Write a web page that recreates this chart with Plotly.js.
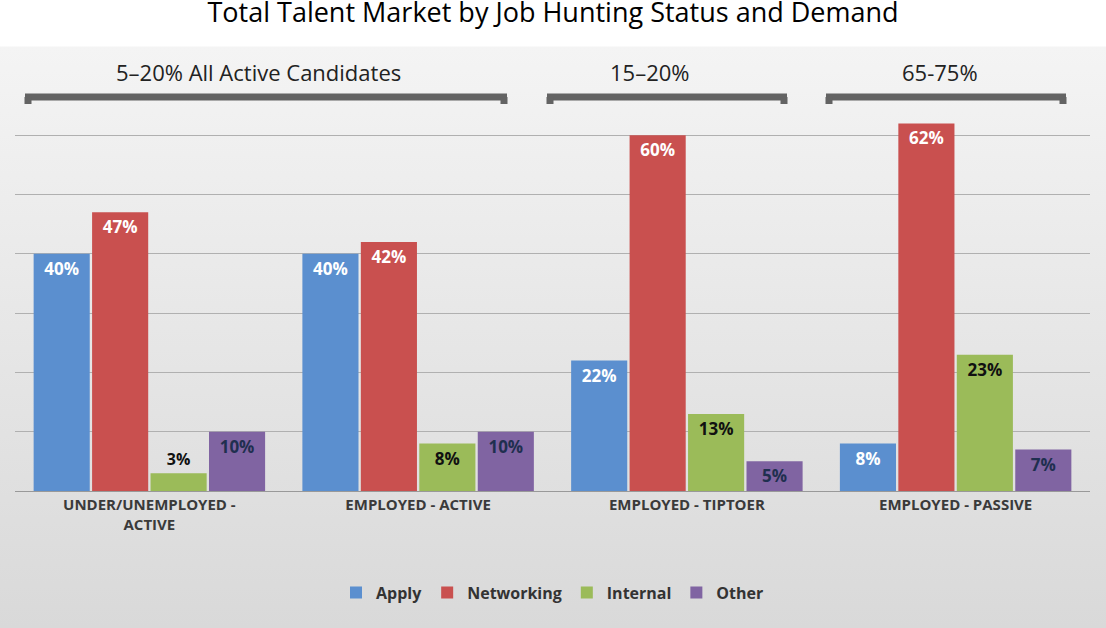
<!DOCTYPE html>
<html><head><meta charset="utf-8">
<script src="https://cdn.plot.ly/plotly-3.0.1.min.js"></script>
<style>
body{margin:0;}
#chart{width:1106px;height:628px;background:linear-gradient(#ffffff 0px,#ffffff 46px,#f4f4f4 47px,#d9d9d9 628px);}
</style></head><body>
<div id="chart"></div>
<script>
// categorias e valores
var categories = ['UNDER/UNEMPLOYED -<br>ACTIVE', 'EMPLOYED - ACTIVE', 'EMPLOYED - TIPTOER', 'EMPLOYED - PASSIVE'];
var apply = [0.40, 0.40, 0.22, 0.08];
var networking = [0.47, 0.42, 0.60, 0.62];
var internal = [0.03, 0.08, 0.13, 0.23];
var other = [0.10, 0.10, 0.05, 0.07];

var groupLabels = ['5–20% All Active Candidates', '15–20%', '65-75%'];

// conversão de pixels para coordenadas de papel
var L = 15, R = 1090, T = 76, B = 491;
function px(x){ return (x - L) / (R - L); }
function py(y){ return (B - y) / (B - T); }

function serie(name, vals, color, txtColor){
    return {
        x: categories, y: vals, name: name, type: 'bar',
        marker: {color: color},
        text: vals.map(function(v){ return Math.round(v*100) + '%'; }),
        textposition: vals.map(function(v){ return v < 0.04 ? 'outside' : 'inside'; }),
        insidetextanchor: 'end',
        textangle: 0,
        constraintext: 'none',
        textfont: {family: 'Open Sans', size: 17, color: txtColor, weight: 'bold'},
        outsidetextfont: {family: 'Open Sans', size: 16, color: '#111', weight: 'bold'},
        cliponaxis: false
    };
}

var data = [
    serie('Apply', apply, '#5b8fcf', '#ffffff'),
    serie('Networking', networking, '#c9504f', '#ffffff'),
    serie('Internal', internal, '#9bbb59', '#111111'),
    serie('Other', other, '#8064a2', '#1f2f4f')
];

var brackets = [[25, 507], [547, 787], [826, 1066]];
var shapes = [];
brackets.forEach(function(b){
    var yTop = py(97), yBot = py(104);
    shapes.push({type:'line', xref:'paper', yref:'paper', x0:px(b[0]), x1:px(b[1]), y0:yTop, y1:yTop, line:{color:'#636363', width:7}});
    shapes.push({type:'line', xref:'paper', yref:'paper', x0:px(b[0]+3), x1:px(b[0]+3), y0:yTop, y1:yBot, line:{color:'#636363', width:7}});
    shapes.push({type:'line', xref:'paper', yref:'paper', x0:px(b[1]-3), x1:px(b[1]-3), y0:yTop, y1:yBot, line:{color:'#636363', width:7}});
});
var labelX = [258, 650, 940];
var annotations = groupLabels.map(function(t, i){
    return {text: t, xref:'paper', yref:'paper', x: px(labelX[i]), y: py(72),
            xanchor:'center', yanchor:'middle', showarrow:false,
            font:{family:'Open Sans', size:22, color:'#222'}};
});

var layout = {
    width: 1106, height: 628,
    paper_bgcolor: 'rgba(0,0,0,0)', plot_bgcolor: 'rgba(0,0,0,0)',
    margin: {l: L, r: 1106 - R, t: T, b: 628 - B},
    title: {text: 'Total Talent Market by Job Hunting Status and Demand', x: 0.5, xanchor: 'center',
            y: 0.995, yanchor: 'top',
            font: {family: 'Open Sans', size: 27, color: '#000'}},
    barmode: 'group', bargap: 0.13, bargroupgap: 0.04,
    xaxis: {tickfont: {family: 'Open Sans', size: 15, color: '#3a3a3a', weight: 'bold'}, showline: true,
            linecolor: '#999', ticks: ''},
    yaxis: {range: [0, 0.7], dtick: 0.1, showticklabels: false, gridcolor: '#b0b0b0', zeroline: false},
    showlegend: true,
    legend: {orientation: 'h', x: 0.5, xanchor: 'center', y: -0.245, yanchor: 'middle',
             font: {family: 'Open Sans', size: 16, color: '#333', weight: 'bold'}},
    shapes: shapes,
    annotations: annotations
};

Plotly.newPlot('chart', data, layout, {displayModeBar: false});
</script>
</body></html>
